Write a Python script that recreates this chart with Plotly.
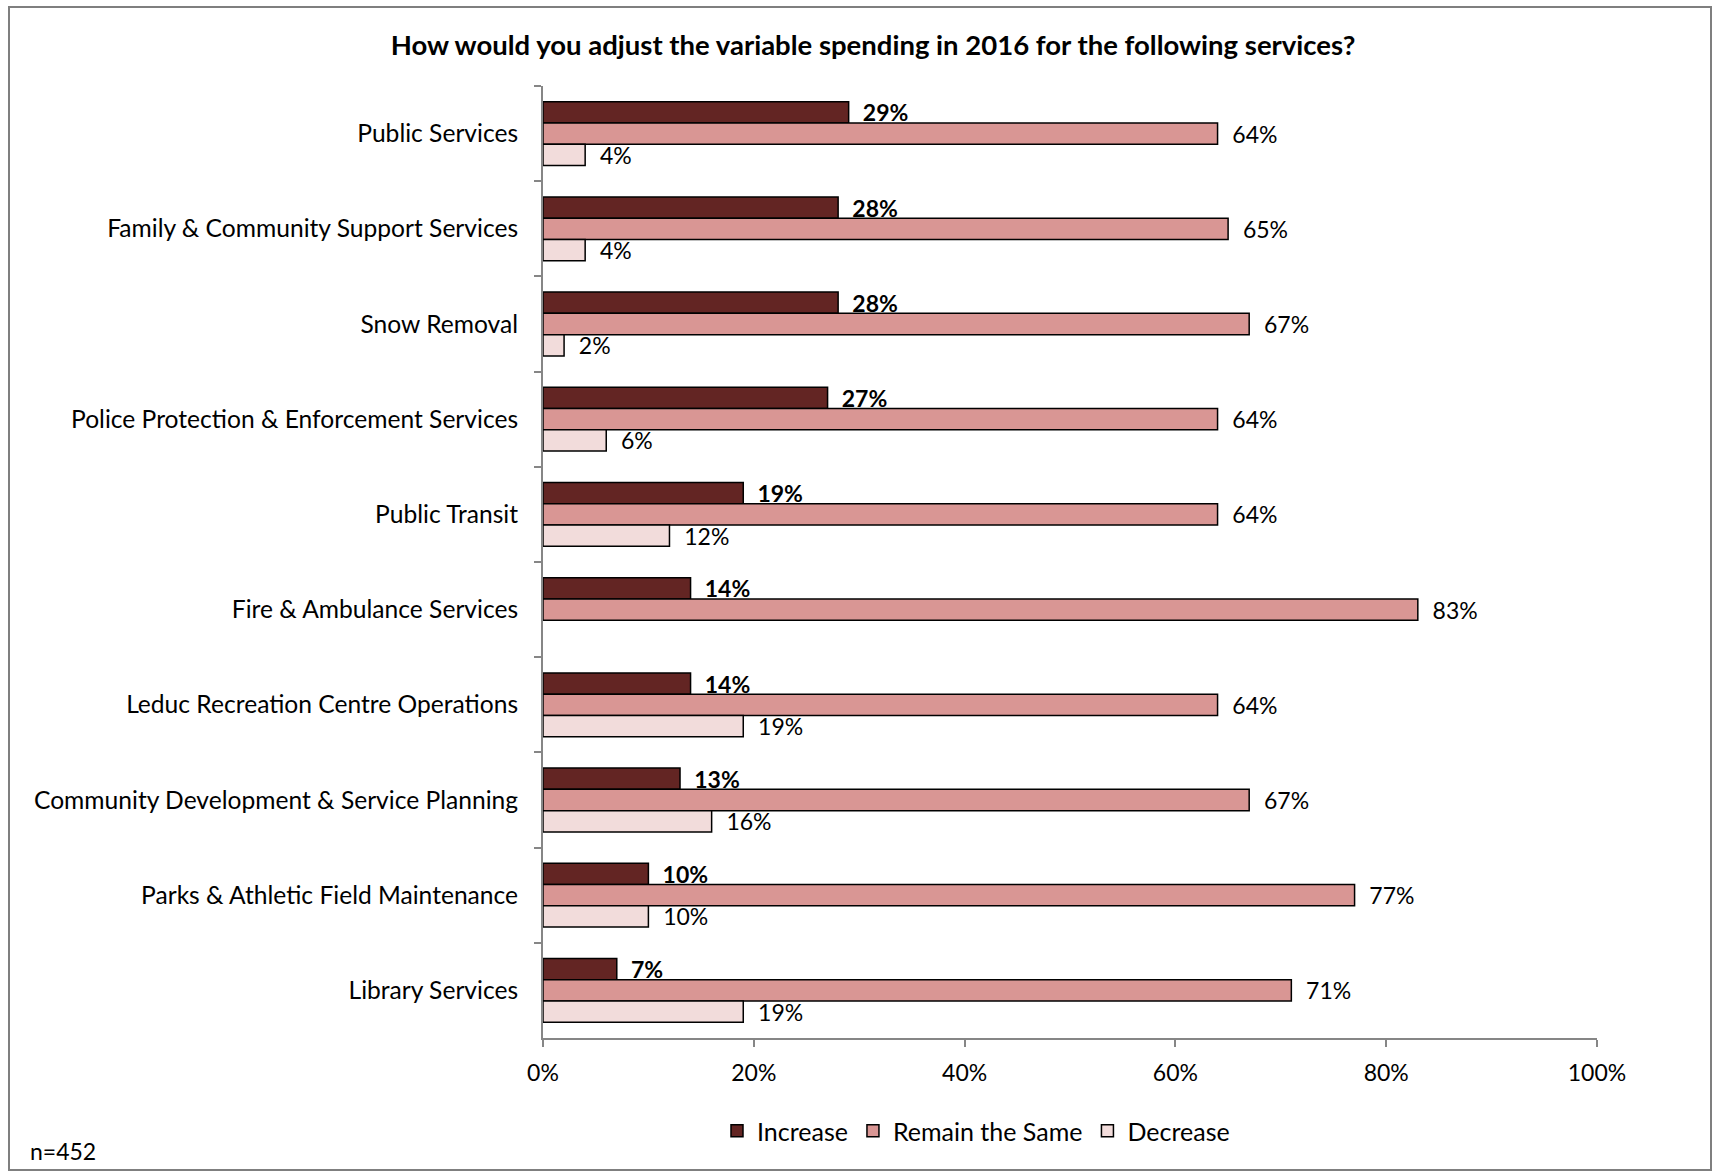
import plotly.graph_objects as go

# Survey responses (% of respondents), n=452
categories = [
    "Public Services",
    "Family & Community Support Services",
    "Snow Removal",
    "Police Protection & Enforcement Services",
    "Public Transit",
    "Fire & Ambulance Services",
    "Leduc Recreation Centre Operations",
    "Community Development & Service Planning",
    "Parks & Athletic Field Maintenance",
    "Library Services",
]
increase = [29, 28, 28, 27, 19, 14, 14, 13, 10, 7]
remain_same = [64, 65, 67, 64, 64, 83, 64, 67, 77, 71]
decrease = [4, 4, 2, 6, 12, None, 19, 16, 10, 19]

x_ticks = [0, 20, 40, 60, 80, 100]
x_tick_labels = ["0%", "20%", "40%", "60%", "80%", "100%"]

FONT = "Lato"
W, H = 1720, 1172
L, R, T, B = 543, 1597, 86, 1038  # plot area in pixels


def labels(vals):
    return ["  %d%%" % v if v is not None else "" for v in vals]


series = [
    ("Increase", increase, "#632523", True),
    ("Remain the Same", remain_same, "#D99694", False),
    ("Decrease", decrease, "#F2DCDB", False),
]

fig = go.Figure()
for name, vals, color, bold in series:
    fig.add_trace(go.Bar(
        name=name,
        y=categories,
        x=vals,
        orientation="h",
        marker=dict(color=color, line=dict(color="#000000", width=1.5)),
        text=labels(vals),
        textposition="outside",
        constraintext="none",
        cliponaxis=False,
        textfont=dict(family=FONT, size=23, color="#000000",
                      weight="bold" if bold else "normal"),
        hoverinfo="skip",
    ))


def px_x(p):
    return (p - L) / (R - L)


def px_y(p):
    return (B - p) / (B - T)


# outer frame around the chart
frame = dict(type="rect", xref="paper", yref="paper",
             x0=px_x(9), x1=px_x(1711), y0=px_y(1170), y1=px_y(7),
             line=dict(color="#7f7f7f", width=2), fillcolor="rgba(0,0,0,0)",
             layer="below")

fig.update_layout(
    width=W, height=H,
    barmode="group",
    bargap=0.33,
    bargroupgap=0,
    plot_bgcolor="white",
    paper_bgcolor="white",
    margin=dict(l=L, r=W - R, t=T, b=H - B, autoexpand=False),
    font=dict(family=FONT, size=24, color="#000000"),
    title=dict(
        text="<b>How would you adjust the variable spending in 2016 for the following services?</b>",
        x=873 / W, xref="container", xanchor="center",
        y=1 - 45 / H, yref="container", yanchor="middle",
        font=dict(family=FONT, size=27.5, color="#000000"),
    ),
    legend=dict(
        orientation="h",
        xref="container", yref="container",
        x=976 / W, xanchor="center",
        y=1 - 1131 / H, yanchor="middle",
        font=dict(family=FONT, size=25),
        traceorder="normal",
        itemclick=False,
        itemwidth=30,
    ),
    shapes=[frame],
    annotations=[dict(
        text="n=452", xref="paper", yref="paper",
        x=px_x(28), y=px_y(1151), xanchor="left", yanchor="middle",
        showarrow=False, font=dict(family=FONT, size=23, color="#000000"),
    )],
    showlegend=True,
)

fig.update_xaxes(
    range=[0, 100],
    tickvals=x_ticks,
    ticktext=x_tick_labels,
    showgrid=False,
    zeroline=False,
    showline=True,
    linecolor="#868686",
    linewidth=2,
    ticks="outside",
    ticklen=7,
    tickwidth=2,
    tickcolor="#868686",
    ticklabelstandoff=6,
    tickfont=dict(family=FONT, size=23),
)

fig.update_yaxes(
    categoryorder="array",
    categoryarray=categories,
    autorange="reversed",
    showgrid=False,
    showline=True,
    linecolor="#868686",
    linewidth=2,
    ticks="outside",
    tickson="boundaries",
    ticklen=7,
    tickwidth=2,
    tickcolor="#868686",
    ticklabelstandoff=18,
    tickfont=dict(family=FONT, size=24.6),
)

fig.write_html("out.html")
